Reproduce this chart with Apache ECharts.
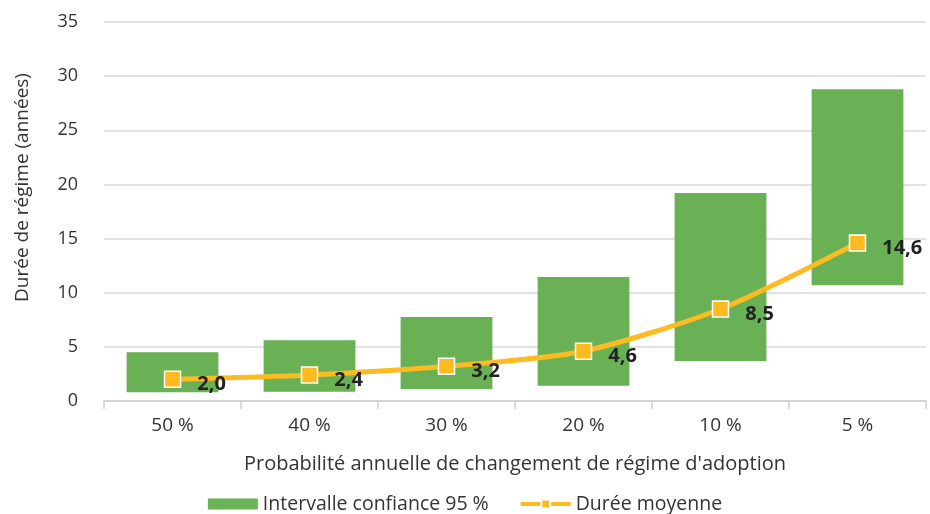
<!DOCTYPE html>
<html>
<head>
<meta charset="utf-8">
<script src="https://cdn.jsdelivr.net/npm/echarts@6/dist/echarts.min.js"></script>
<style>
  html, body { margin: 0; padding: 0; background: #fff; }
  #chart { width: 930px; height: 514px; }
</style>
</head>
<body>
<div id="chart"></div>
<script>
// données
var categories = ['50 %', '40 %', '30 %', '20 %', '10 %', '5 %'];
var ciLow = [0.8, 0.85, 1.1, 1.4, 3.7, 10.7];
var ciHigh = [4.5, 5.6, 7.75, 11.45, 19.2, 28.8];
var meanDuration = [2.0, 2.4, 3.2, 4.6, 8.5, 14.6];

var ciSpan = ciHigh.map(function (h, i) { return +(h - ciLow[i]).toFixed(2); });

var font = 'Open Sans';
var myChart = echarts.init(document.getElementById('chart'));

var option = {
    backgroundColor: '#fff',
    animation: false,
    textStyle: { fontFamily: font },
    grid: { left: 104, right: 4, top: 22, bottom: 113 },
    legend: {
        bottom: 0,
        left: 'center',
        padding: 0,
        itemGap: 30,
        itemWidth: 50,
        itemHeight: 11,
        data: [
            { name: 'Intervalle confiance 95 %', icon: 'rect' },
            { name: 'Durée moyenne', lineStyle: { width: 4 } }
        ],
        textStyle: { fontSize: 19.5, color: '#333', fontFamily: font }
    },
    xAxis: {
        type: 'category',
        data: categories,
        name: "Probabilité annuelle de changement de régime d'adoption",
        nameLocation: 'middle',
        nameGap: 53,
        nameTextStyle: { fontSize: 20, color: '#333' },
        axisLine: { lineStyle: { color: '#d0d0d0', width: 1.5 } },
        axisTick: { show: true, length: 8, lineStyle: { color: '#d0d0d0', width: 1.5 } },
        axisLabel: { fontSize: 19, color: '#333', margin: 15 }
    },
    yAxis: {
        type: 'value',
        min: 0,
        max: 35,
        interval: 5,
        name: 'Durée de régime (années)',
        nameLocation: 'middle',
        nameGap: 72,
        nameTextStyle: { fontSize: 19, color: '#333', padding: [0, 0, 0, 48] },
        axisLine: { show: false },
        axisTick: { show: false },
        axisLabel: { fontSize: 18, color: '#333', margin: 26, align: 'right' },
        splitLine: { lineStyle: { color: '#d9d9d9', width: 1.5 } }
    },
    series: [
        {
            type: 'bar',
            stack: 'ci',
            data: ciLow,
            barWidth: '67%',
            itemStyle: { color: 'transparent' },
            silent: true
        },
        {
            name: 'Intervalle confiance 95 %',
            type: 'bar',
            stack: 'ci',
            data: ciSpan,
            barWidth: '67%',
            itemStyle: { color: '#6ab155' }
        },
        {
            name: 'Durée moyenne',
            type: 'line',
            data: meanDuration,
            smooth: 0.25,
            symbol: 'rect',
            symbolSize: 16,
            itemStyle: { color: '#fbbb21', borderColor: '#fff', borderWidth: 1.5 },
            lineStyle: { color: '#fbbb21', width: 5 },
            label: {
                show: true,
                position: 'right',
                distance: 16,
                offset: [0, 5],
                fontSize: 20,
                fontWeight: 'bold',
                color: '#222',
                formatter: function (p) { return p.value.toFixed(1).replace('.', ','); }
            },
            z: 5
        }
    ]
};

myChart.setOption(option);
</script>
</body>
</html>
